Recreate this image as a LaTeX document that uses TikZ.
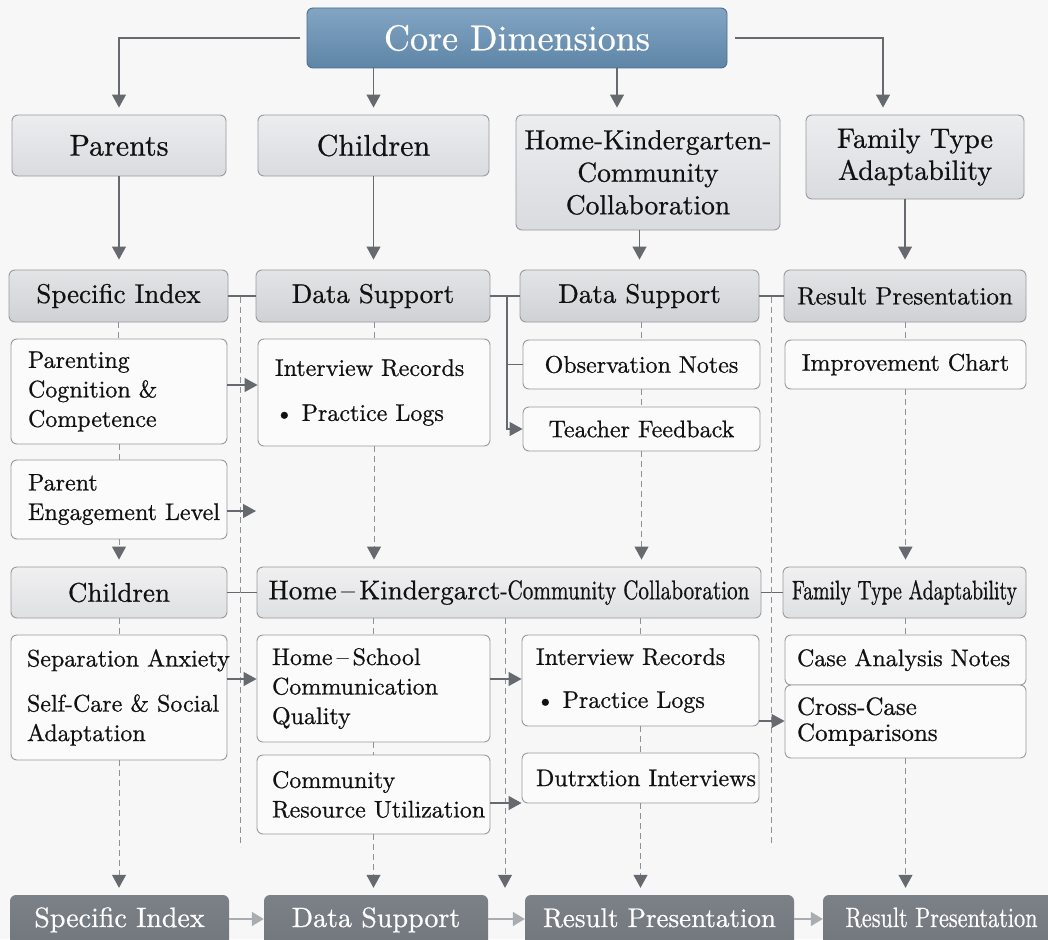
\documentclass[tikz,border=0pt]{standalone}
\usepackage{fontspec}
\setmainfont{lmroman10-regular.otf}[FakeBold=0.7]
\usepackage{graphicx}
\usetikzlibrary{arrows.meta,calc}
\definecolor{bgc}{HTML}{F7F7F7}
\definecolor{coreT}{HTML}{82A5C3}
\definecolor{coreB}{HTML}{5E85A7}
\definecolor{coreD}{HTML}{4A6E8E}
\definecolor{topT}{HTML}{ECEDEF}
\definecolor{topB}{HTML}{DADBDE}
\definecolor{hdrT}{HTML}{E3E4E6}
\definecolor{hdrB}{HTML}{D0D1D4}
\definecolor{h3T}{HTML}{F0F0F1}
\definecolor{h3B}{HTML}{DFE0E2}
\definecolor{itemF}{HTML}{FBFBFB}
\definecolor{bord}{HTML}{979A9F}
\definecolor{botT}{HTML}{7C8087}
\definecolor{botB}{HTML}{6A6E75}
\definecolor{arrc}{HTML}{66696E}
\definecolor{dashc}{HTML}{8E9196}
\definecolor{barr}{HTML}{A9ACB0}
\definecolor{txt}{HTML}{111111}
\newcommand\fCore{\fontsize{36}{44}\selectfont}
\newcommand\fTop{\fontsize{30}{32.5}\selectfont}
\newcommand\fHdr{\fontsize{27}{30}\selectfont}
\newcommand\fItm{\fontsize{24}{29.5}\selectfont}
\newcommand\fBot{\fontsize{28}{30}\selectfont}
\begin{document}
\begin{tikzpicture}[x=1pt,y=-1pt,
  box/.style={draw=bord, rounded corners=6pt, inner sep=0pt, line width=0.9pt, text=txt},
  corebox/.style={box, draw=coreD, top color=coreT, bottom color=coreB, text=white, font=\fCore},
  topbox/.style={box, top color=topT, bottom color=topB, font=\fTop, align=center},
  hdr/.style={box, top color=hdrT, bottom color=hdrB, font=\fHdr},
  hdrL/.style={box, top color=h3T, bottom color=h3B, font=\fHdr},
  item/.style={box, fill=itemF, font=\fItm, align=left},
  itemC/.style={box, fill=itemF, font=\fItm, align=center},
  bot/.style={rounded corners=6pt, inner xsep=0pt, inner ysep=12pt, top color=botT, bottom color=botB,
     text=white, font=\fBot, anchor=base, text height=20pt, text depth=50pt},
  ln/.style={draw=arrc, line width=1.2pt},
  arr/.style={ln, -{Triangle[width=14pt,length=13pt]}},
  dsh/.style={draw=dashc, line width=1pt, dash pattern=on 6pt off 4pt},
  darr/.style={dsh, -{Triangle[width=14pt,length=13pt,color=arrc]}, shorten >=7pt},
  barrow/.style={draw=barr, line width=1.6pt, -{Triangle[width=14pt,length=12pt]}}
]
\useasboundingbox (0,0) rectangle (1048,939);
\clip (0,0) rectangle (1048,939);
\fill[bgc] (0,0) rectangle (1048,939);

% core
\node[corebox, minimum width=420pt, minimum height=60pt] (core) at (517,38) {Core Dimensions};

% row 1
\node[topbox, minimum width=214pt, minimum height=61pt] (parents) at (119,145.5) {Parents};
\node[topbox, minimum width=231pt, minimum height=61pt] (child1) at (373.5,145.5) {Children};
\node[topbox, minimum width=264pt, minimum height=115pt, font=\fontsize{27.5}{32.5}\selectfont] (hkc1) at (648,172.5) {Home-Kindergarten-\\Community\\Collaboration};
\node[topbox, minimum width=218pt, minimum height=84pt, font=\fontsize{28}{32}\selectfont] (fta1) at (915,157) {Family Type\\Adaptability};

% row 2 headers
\node[hdr, minimum width=219pt, minimum height=52pt] (si) at (118.5,296) {Specific Index};
\node[hdr, minimum width=234pt, minimum height=52pt] (ds1) at (373,296) {Data Support};
\node[hdr, minimum width=239pt, minimum height=52pt] (ds2) at (639.5,296) {Data Support};
\node[hdr, minimum width=242pt, minimum height=52pt, font=\fontsize{25}{30}\selectfont] (rp) at (905,296) {Result Presentation};

% row 2 items
\node[item, inner xsep=17pt, text width=182pt, minimum height=105pt] (pcc) at (119,391.5) {Parenting\\Cognition \&\\Competence};
\node[item, inner xsep=17pt, text width=182pt, minimum height=79pt] (pel) at (119,499.5) {Parent\\\mbox{Engagement Level}};
\node[item, inner xsep=17pt, text width=198pt, minimum height=107pt] (ir1) at (374,392.5) {\mbox{Interview Records}\\[15.5pt]• Practice Logs};
\node[itemC, minimum width=237pt, minimum height=49pt] (obs) at (641.5,364.5) {Observation Notes};
\node[itemC, minimum width=237pt, minimum height=44pt] (tf) at (641.5,429) {Teacher Feedback};
\node[itemC, minimum width=241pt, minimum height=49pt] (ic) at (905.5,364.5) {Improvement Chart};

% row 3 headers
\node[hdrL, minimum width=216pt, minimum height=51pt] (ch3) at (119,592.5) {Children};
\node[hdrL, minimum width=504pt, minimum height=51pt] (hkc3) at (509,592.5) {Home\,–\,Kindergarct\resizebox{249pt}{\height}{\fHdr -Community Collaboration}};
\node[hdrL, minimum width=243pt, minimum height=51pt] (fta3) at (904.5,592.5) {\resizebox{225pt}{\height}{\fHdr Family Type Adaptability}};

% row 4 items
\node[item, inner xsep=16pt, text width=184pt, minimum height=125pt] (sep) at (119,697.5) {\mbox{Separation Anxiety}\\[15.5pt]\mbox{Self-Care \& Social}\\Adaptation};
\node[item, inner xsep=15pt, text width=203pt, minimum height=107pt] (hsc) at (373.5,688.5) {Home\,–\,School\\Communication\\Quality};
\node[item, inner xsep=15pt, text width=203pt, minimum height=79pt] (cru) at (373.5,794.5) {Community\\\mbox{Resource Utilization}};
\node[item, inner xsep=14pt, text width=209pt, minimum height=91pt] (ir2) at (640.5,680.5) {\mbox{Interview Records}\\[13.5pt]• Practice Logs};
\node[item, inner xsep=14pt, text width=209pt, minimum height=50pt] (dut) at (640.5,778) {\mbox{Dutrxtion Interviews}};
\node[item, inner xsep=12pt, text width=217pt, minimum height=50pt] (can) at (905.5,660) {\mbox{Case Analysis Notes}};
\node[item, inner xsep=12pt, text width=217pt, minimum height=73pt, font=\fontsize{25}{26}\selectfont] (ccc) at (905.5,721.5) {Cross-Case\\Comparisons};

% bottom row
\node[bot, minimum width=219pt] (b1) at (119.5,927) {Specific Index};
\node[bot, minimum width=224pt] (b2) at (376,927) {Data Support};
\node[bot, minimum width=269pt, font=\fontsize{27}{30}\selectfont] (b3) at (659.5,927) {Result Presentation};
\node[bot, minimum width=237pt] (b4) at (941.5,927) {\resizebox{192pt}{\height}{\fBot Result Presentation}};

% core connectors
\draw[arr, shorten <=7pt, shorten >=7pt] (core.west) -| (parents.north);
\draw[arr, shorten >=7pt] (core.south -| child1.north) -- (child1.north);
\draw[arr, shorten >=7pt] ([xshift=100pt]core.south) -- ([xshift=100pt]core.south |- hkc1.north);
\draw[arr, shorten <=8pt, shorten >=7pt] (core.east) -| ([xshift=-32pt]fta1.north);

% row1 -> row2
\draw[arr, shorten >=10pt] (parents.south) -- (parents.south |- si.north);
\draw[arr, shorten >=10pt] (child1.south) -- (child1.south |- ds1.north);
\draw[arr, shorten >=10pt] (hkc1.south -| ds2.north) -- (ds2.north);
\draw[arr, shorten >=10pt] (fta1.south -| rp.north) -- (rp.north);

% header links
\draw[ln] (si.east) -- (ds1.west);
\draw[ln] (ds1.east) -- (ds2.west);
\draw[ln] (ds2.east) -- (rp.west);
\coordinate (br) at (507,296);
\draw[ln] (br |- obs.west) -- (obs.west);
\draw[arr] (br) |- (tf.west);
\draw[ln] (ch3.east) -- (hkc3.west);
\draw[ln] (hkc3.east) -- (fta3.west);

% long dashed verticals
\coordinate (v1a) at (240,297); \coordinate (v1b) at (240,847);
\coordinate (v2a) at (771,297); \coordinate (v2b) at (771,847);
\draw[dsh] (v1a) -- (v1b);
\draw[dsh] (v2a) -- (v2b);
\draw[darr] ([xshift=-4pt]hkc3.south) -- ([xshift=-4pt]hkc3.south |- b3.north);

% short dashed links and dashed arrows
\draw[dsh] (si.south) -- (si.south |- pcc.north);
\draw[dsh] (pcc.south) -- (pel.north);
\draw[darr] (pel.south) -- (ch3.north);
\draw[dsh] (ds1.south -| ir1.north) -- (ir1.north);
\draw[darr] (ir1.south) -- (ir1.south |- hkc3.north);
\draw[dsh] (ds2.south -| obs.north) -- (obs.north);
\draw[dsh] (obs.south) -- (tf.north);
\draw[darr] (tf.south) -- (tf.south |- hkc3.north);
\draw[dsh] (rp.south -| ic.north) -- (ic.north);
\draw[darr] (ic.south) -- (ic.south |- fta3.north);

\draw[dsh] (ch3.south) -- (sep.north);
\draw[darr] (sep.south) -- (sep.south |- b1.north);
\draw[dsh] (hkc3.south -| hsc.north) -- (hsc.north);
\draw[dsh] (hsc.south) -- (cru.north);
\draw[darr] (cru.south) -- (cru.south |- b2.north);
\draw[dsh] (hkc3.south -| ir2.north) -- (ir2.north);
\draw[dsh] (ir2.south) -- (dut.north);
\draw[darr] (dut.south) -- (dut.south |- b3.north);
\draw[dsh] (fta3.south -| can.north) -- (can.north);
\draw[darr] (ccc.south) -- (ccc.south |- b4.north);

% solid cross arrows
\draw[arr] ([yshift=6.5pt]pcc.east) -- ([yshift=6.5pt]pcc.east -| ir1.west);
\coordinate (pelEnd) at (256,511);
\draw[arr] (pel.east |- pelEnd) -- (pelEnd);
\draw[arr] ([yshift=18.5pt]sep.east) -- ([yshift=18.5pt]sep.east -| hsc.west);
\draw[arr] ([yshift=9.5pt]hsc.east) -- ([yshift=9.5pt]hsc.east -| ir2.west);
\draw[arr] ([yshift=-8.5pt]cru.east) -- ([yshift=-8.5pt]cru.east -| dut.west);
\draw[arr] ([yshift=-40.5pt]ir2.east) -- ([yshift=-40.5pt]ir2.east -| ccc.west);

% bottom arrows
\draw[barrow] ([yshift=8pt]b1.base east) -- ([yshift=8pt]b1.base east -| b2.west);
\draw[barrow] ([yshift=8pt]b2.base east) -- ([yshift=8pt]b2.base east -| b3.west);
\draw[barrow] ([yshift=8pt]b3.base east) -- ([yshift=8pt]b3.base east -| b4.west);
\end{tikzpicture}
\end{document}
